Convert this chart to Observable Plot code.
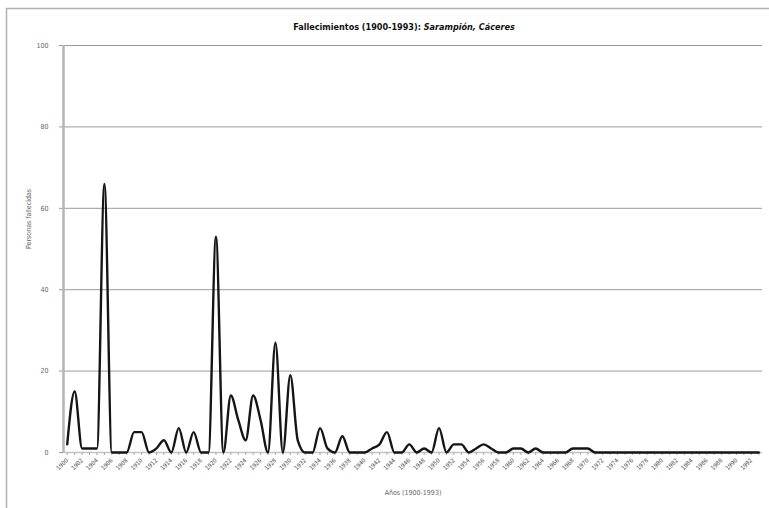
<!DOCTYPE html>
<html><head><meta charset="utf-8">
<script src="https://cdn.jsdelivr.net/npm/d3@7"></script>
<script src="https://cdn.jsdelivr.net/npm/@observablehq/plot@0.6"></script>
<style>
body{margin:0;background:#fff;}
#chart svg{display:block;}
</style>
</head><body><div id="chart"></div>
<script>
const years = d3.range(1900, 1994);
const deaths = [
  2, 15, 1, 1, 1, 66, 0, 0, 0, 5,
  5, 0, 1, 3, 0, 6, 0, 5, 0, 0,
  53, 0, 14, 8, 3, 14, 8, 0, 27, 0,
  19, 3, 0, 0, 6, 1, 0, 4, 0, 0,
  0, 1, 2, 5, 0, 0, 2, 0, 1, 0,
  6, 0, 2, 2, 0, 1, 2, 1, 0, 0,
  1, 1, 0, 1, 0, 0, 0, 0, 1, 1,
  1, 0, 0, 0, 0, 0, 0, 0, 0, 0,
  0, 0, 0, 0, 0, 0, 0, 0, 0, 0,
  0, 0, 0, 0
];
const yTicks = [0, 20, 40, 60, 80, 100];
const xTickLabels = d3.range(1900, 1993, 2);
const titleMain = "Fallecimientos (1900-1993): ";
const titleItalic = "Sarampión, Cáceres";
const yTitle = "Personas fallecidas";
const xTitle = "Años (1900-1993)";

const data = years.map((y, i) => ({year: y, value: deaths[i]}));

const plot = Plot.plot({
  width: 769, height: 508,
  marginLeft: 63, marginRight: 7, marginTop: 45, marginBottom: 56,
  style: {fontFamily: "DejaVu Sans Condensed, DejaVu Sans, sans-serif", background: "#fff"},
  x: {domain: [1899.5, 1993.5], axis: null},
  y: {domain: [0, 100], axis: null},
  marks: [
    Plot.gridY(yTicks.filter(d => d > 0), {stroke: "#9a9a9a", strokeOpacity: 1, strokeWidth: 1}),
    Plot.ruleY([0], {stroke: "#c4c4c4", strokeWidth: 1.5}),
    Plot.axisY(yTicks, {label: null, tickSize: 4, tickPadding: 11, stroke: "#999", fill: "#666", fontSize: 7}),
    Plot.axisX(years, {label: null, tickSize: 3, text: null, stroke: "#aaa"}),
    Plot.axisX(xTickLabels, {label: null, tickSize: 0, tickPadding: 7, tickRotate: -45, fill: "#444", fontSize: 6, tickFormat: d => String(d)}),
    Plot.ruleX([1899.5], {stroke: "#b5b5b5", strokeWidth: 2.5}),
    Plot.line(data, {x: "year", y: "value", curve: "monotone-x", stroke: "#151515", strokeWidth: 2.4}),
    Plot.text([yTitle], {frameAnchor: "left", dx: -35, rotate: -90, fill: "#666", fontSize: 7}),
    Plot.text([xTitle], {frameAnchor: "bottom", dy: 42, fill: "#666", fontSize: 7})
  ]
});

const svg = d3.select(plot);
svg.insert("rect", ":first-child")
  .attr("x", 6.5).attr("y", 8.5).attr("width", 800).attr("height", 600)
  .attr("fill", "none").attr("stroke", "#b0b0b0").attr("stroke-width", 1.5);
const t = svg.append("text")
  .attr("x", 404).attr("y", 30)
  .attr("text-anchor", "middle")
  .attr("font-size", 9).attr("font-weight", "bold")
  .attr("fill", "#111")
  .attr("font-family", "DejaVu Sans Condensed, DejaVu Sans, sans-serif");
t.append("tspan").text(titleMain);
t.append("tspan").attr("font-style", "italic").text(titleItalic);

document.getElementById("chart").appendChild(plot);
</script>
</body></html>
